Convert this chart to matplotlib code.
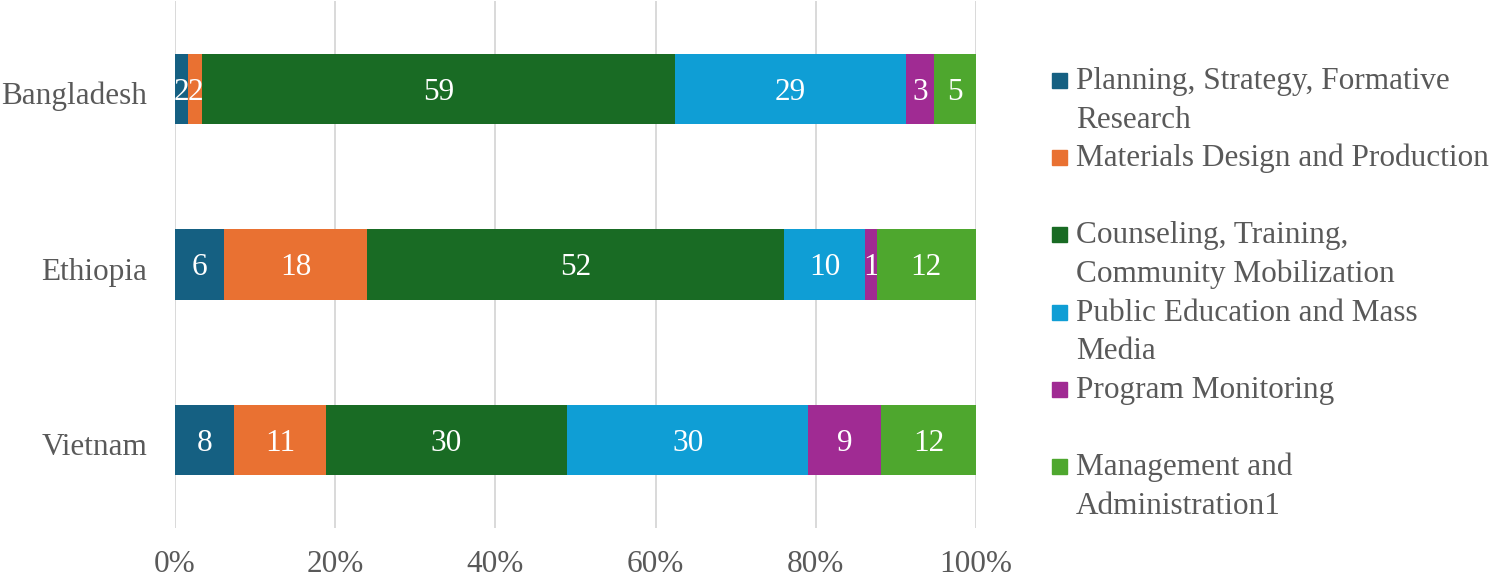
import matplotlib
matplotlib.use("Agg")
import matplotlib.pyplot as plt
from matplotlib.patches import Rectangle
from matplotlib.transforms import ScaledTranslation
import numpy as np

# ---------------- data ----------------
countries = ["Bangladesh", "Ethiopia", "Vietnam"]
series = [
    "Planning, Strategy, Formative\nResearch",
    "Materials Design and Production",
    "Counseling, Training,\nCommunity Mobilization",
    "Public Education and Mass\nMedia",
    "Program Monitoring",
    "Management and\nAdministration1",
]
colors = ["#156082", "#E97132", "#196B24", "#0F9ED5", "#A02B93", "#4EA72E"]

# segment shares (as drawn) per country, series order as above
bangladesh_share = [1.6, 1.8, 59.0, 28.9, 3.4, 5.3]
ethiopia_share = [6.1, 17.9, 52.0, 10.2, 1.4, 12.4]
vietnam_share = [7.4, 11.4, 30.2, 30.0, 9.2, 11.8]

# data labels shown on the segments
bangladesh_labels = [2, 2, 59, 29, 3, 5]
ethiopia_labels = [6, 18, 52, 10, 1, 12]
vietnam_labels = [8, 11, 30, 30, 9, 12]

shares = [bangladesh_share, ethiopia_share, vietnam_share]
labels = [bangladesh_labels, ethiopia_labels, vietnam_labels]

# ---------------- figure ----------------
W, H = 1489, 580
plt.rcParams["font.family"] = ["Liberation Serif", "DejaVu Serif"]
fig = plt.figure(figsize=(W / 100, H / 100), dpi=100)

ax_l, ax_r, ax_t, ax_b = 175, 976, 1, 528
ax = fig.add_axes([ax_l / W, 1 - ax_b / H, (ax_r - ax_l) / W, (ax_b - ax_t) / H])

text_color = "#595959"
fs = 22.5

y = np.arange(len(countries))
data = np.array(shares, dtype=float)
data = data / data.sum(axis=1, keepdims=True) * 100
left = np.zeros(len(countries))
for j in range(len(series)):
    w = data[:, j]
    bars = ax.barh(y, w, left=left, height=0.4, color=colors[j], zorder=3)
    anns = ax.bar_label(bars, labels=[str(labels[i][j]) for i in range(len(countries))],
                        label_type="center", color="white", fontsize=fs)
    for a in anns:
        a.xyann = (0, -2.5)
    left += w

ax.set_xlim(0, 100)
ax.set_ylim(2.5, -0.5)
ax.set_yticks(y)
ax.set_yticklabels(countries)
ax.set_xticks([0, 20, 40, 60, 80, 100])
ax.set_xticklabels([f"{v}%" for v in [0, 20, 40, 60, 80, 100]])
ax.tick_params(axis="x", length=0, pad=16, labelsize=fs, labelcolor=text_color)
ax.tick_params(axis="y", length=0, pad=20, labelsize=fs, labelcolor=text_color)
shift = ScaledTranslation(0, -3 / 72, fig.dpi_scale_trans)
for t in ax.get_yticklabels():
    t.set_transform(t.get_transform() + shift)
ax.grid(axis="x", color="#D9D9D9", linewidth=1.4, zorder=0)
for s in ax.spines.values():
    s.set_visible(False)

# ---------------- legend (manual, Excel style) ----------------
line_h = 38.6
slot_h = 2 * line_h
first_base = 89
sq = 15
for i, (name, c) in enumerate(zip(series, colors)):
    base = first_base + i * slot_h
    fig.patches.append(Rectangle((1052 / W, 1 - (base - 1) / H), sq / W, sq / H,
                                 transform=fig.transFigure, color=c, figure=fig))
    for k, line in enumerate(name.split("\n")):
        fig.text(1076 / W, 1 - (base + k * line_h) / H, line, fontsize=fs,
                 color=text_color, va="baseline", ha="left")

fig.savefig("out.png", dpi=100)
